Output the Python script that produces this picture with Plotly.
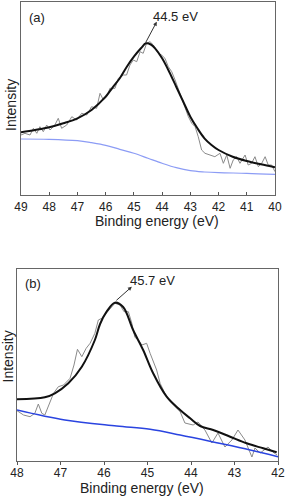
import plotly.graph_objects as go

FONT = "Arial, Liberation Sans, sans-serif"

# ---------- Panel (a) ----------
a_raw_energy = [49.00, 48.86, 48.68, 48.56, 48.44, 48.33, 48.21, 48.09, 47.97, 47.80,
                47.68, 47.56, 47.38, 47.20, 47.03, 46.85, 46.67, 46.50, 46.32, 46.20,
                46.08, 45.96, 45.85, 45.67, 45.55, 45.37, 45.26, 45.14, 45.02, 44.90,
                44.78, 44.67, 44.55, 44.43, 44.31, 44.13, 44.02, 43.90, 43.78, 43.66,
                43.54, 43.43, 43.31, 43.19, 43.07, 42.95, 42.83, 42.72, 42.60, 42.48,
                42.30, 42.13, 41.95, 41.83, 41.71, 41.59, 41.48, 41.36, 41.24, 41.06,
                40.95, 40.83, 40.71, 40.59, 40.47, 40.35, 40.24, 40.12, 40.00]
a_raw_intensity = [60.0, 61.7, 60.0, 66.7, 61.7, 68.3, 63.3, 70.0, 65.0, 70.0,
                   76.7, 66.7, 70.0, 78.3, 75.0, 81.7, 80.0, 88.3, 86.7, 101.7,
                   95.0, 98.3, 106.7, 106.7, 116.7, 120.0, 120.0, 130.0, 135.0, 133.3,
                   143.3, 141.7, 151.7, 153.3, 150.0, 141.7, 140.0, 136.7, 128.3, 123.3,
                   115.0, 106.7, 96.7, 88.3, 78.3, 71.7, 68.3, 58.3, 45.0, 41.7,
                   40.0, 38.3, 41.7, 31.7, 40.0, 26.7, 35.0, 38.3, 31.7, 40.0,
                   30.0, 31.7, 38.3, 28.3, 31.7, 38.3, 30.0, 30.0, 23.3]

a_fit_energy = [49.0, 48.5, 48.0, 47.5, 47.0, 46.5, 46.0, 45.75, 45.5, 45.25, 45.0,
                44.75, 44.57, 44.4, 44.25, 44.0, 43.75, 43.5, 43.25, 43.0, 42.75,
                42.5, 42.25, 42.0, 41.5, 41.0, 40.5, 40.0]
a_fit_intensity = [62.7, 65.0, 67.7, 71.7, 76.7, 85.0, 98.3, 107.7, 116.7, 128.3, 138.3,
                   146.7, 151.7, 150.5, 146.7, 136.7, 123.3, 108.3, 93.3, 78.3, 66.7,
                   56.7, 50.0, 45.0, 38.3, 34.0, 30.7, 27.7]

a_bg_energy = [49.0, 48.0, 47.0, 46.5, 46.0, 45.5, 45.0, 44.5, 44.0, 43.5, 43.0,
               42.5, 42.0, 41.0, 40.0]
a_bg_intensity = [56.0, 55.7, 54.3, 52.3, 49.7, 45.7, 41.7, 36.7, 31.7, 27.3, 24.3,
                  23.0, 22.3, 21.7, 20.7]

a_ticks = [49, 48, 47, 46, 45, 44, 43, 42, 41, 40]

# ---------- Panel (b) ----------
b_raw_energy = [48.00, 47.85, 47.70, 47.59, 47.51, 47.43, 47.36, 47.28, 47.16, 47.05,
                46.93, 46.78, 46.69, 46.61, 46.51, 46.41, 46.32, 46.21, 46.13, 46.05,
                45.95, 45.86, 45.75, 45.63, 45.54, 45.44, 45.36, 45.29, 45.21, 45.13,
                45.02, 44.94, 44.87, 44.79, 44.71, 44.60, 44.48, 44.37, 44.25, 44.14,
                43.95, 43.84, 43.68, 43.52, 43.38, 43.22, 43.06, 42.92, 42.76, 42.60,
                42.53, 42.41, 42.23, 42.12, 42.02]
b_raw_intensity = [50.3, 46.0, 44.3, 47.7, 57.0, 47.7, 46.0, 54.3, 67.7, 74.3,
                   76.0, 82.7, 96.0, 111.7, 104.3, 112.7, 117.7, 127.7, 141.0, 142.7,
                   147.7, 152.7, 157.7, 156.0, 149.3, 149.3, 137.7, 123.7, 121.0, 116.0,
                   117.7, 107.7, 99.3, 91.0, 77.7, 67.7, 59.3, 54.3, 49.3, 38.0,
                   36.0, 39.0, 31.0, 18.0, 28.0, 14.0, 21.0, 31.0, 21.0, 4.0,
                   13.0, 8.0, 14.0, 9.0, 6.0]

b_fit_energy = [48.00, 47.36, 47.13, 46.82, 46.51, 46.21, 46.09, 45.94, 45.75, 45.56,
                45.33, 45.10, 44.87, 44.56, 44.25, 44.02, 43.79, 43.49, 43.10, 42.72,
                42.34, 42.03]
b_fit_intensity = [61.7, 63.7, 67.7, 77.7, 94.3, 121.0, 137.0, 149.3, 158.3, 154.0,
                   131.0, 111.0, 87.7, 64.3, 51.0, 42.7, 35.0, 31.0, 24.3, 17.7,
                   12.7, 8.7]

b_bg_energy = [48.0, 46.90, 45.71, 44.94, 44.25, 43.41, 42.64, 42.0]
b_bg_intensity = [51.0, 41.0, 35.0, 31.7, 26.0, 18.3, 11.0, 4.3]

b_ticks = [48, 47, 46, 45, 44, 43, 42]

fig = go.Figure()

# panel a traces
fig.add_trace(go.Scatter(x=a_raw_energy, y=a_raw_intensity, mode="lines",
                         line=dict(color="#8a8a8a", width=1), xaxis="x", yaxis="y"))
fig.add_trace(go.Scatter(x=a_bg_energy, y=a_bg_intensity, mode="lines",
                         line=dict(color="#8c9cf5", width=1.2, shape="spline"), xaxis="x", yaxis="y"))
fig.add_trace(go.Scatter(x=a_fit_energy, y=a_fit_intensity, mode="lines",
                         line=dict(color="#111111", width=2, shape="spline"), xaxis="x", yaxis="y"))

# panel b traces
fig.add_trace(go.Scatter(x=b_raw_energy, y=b_raw_intensity, mode="lines",
                         line=dict(color="#8a8a8a", width=1), xaxis="x2", yaxis="y2"))
fig.add_trace(go.Scatter(x=b_bg_energy, y=b_bg_intensity, mode="lines",
                         line=dict(color="#2a44e0", width=1.5, shape="spline"), xaxis="x2", yaxis="y2"))
fig.add_trace(go.Scatter(x=b_fit_energy, y=b_fit_intensity, mode="lines",
                         line=dict(color="#111111", width=2, shape="spline"), xaxis="x2", yaxis="y2"))

axis_common = dict(showline=True, mirror=True, linecolor="#666666", linewidth=1,
                   showgrid=False, zeroline=False, automargin=False)

fig.update_layout(
    width=285, height=496,
    margin=dict(l=0, r=0, t=0, b=0),
    paper_bgcolor="white", plot_bgcolor="white",
    showlegend=False,
    font=dict(family=FONT, color="#222222"),
    xaxis=dict(domain=[21/285, 275/285], range=[49, 40], anchor="y",
               tickmode="array", tickvals=a_ticks, ticks="inside", ticklen=3,
               tickcolor="#555555", ticklabelstandoff=1,
               tickfont=dict(size=12, family=FONT, color="#222222"),
               **axis_common),
    yaxis=dict(domain=[1 - 195/496, 1 - 2/496], range=[0, 193], anchor="x",
               showticklabels=False, ticks="", **axis_common),
    xaxis2=dict(domain=[17/285, 278/285], range=[48, 42], anchor="y2",
                tickmode="array", tickvals=b_ticks, ticks="outside", ticklen=3,
                tickcolor="#555555", ticklabelstandoff=-2,
                tickfont=dict(size=12, family=FONT, color="#222222"),
                **axis_common),
    yaxis2=dict(domain=[1 - 461/496, 1 - 269/496], range=[0, 192], anchor="x2",
                showticklabels=False, ticks="", **axis_common),
)

def txt(text, x, y, xref="paper", yref="paper", size=13, angle=0):
    return dict(text=text, xref=xref, yref=yref, x=x, y=y, showarrow=False,
                xanchor="center", yanchor="middle", textangle=angle,
                font=dict(size=size, family=FONT, color="#222222"))

ann = [
    txt("(a)", 37/285, 1 - 17/496),
    txt("(b)", 33/285, 1 - 283/496),
    txt("Binding energy (eV)", 157/285, 1 - 221/496, size=14),
    txt("Binding energy (eV)", 142/285, 1 - 488/496, size=14),
    txt("Intensity", 11/285, 1 - 105/496, size=14, angle=-90),
    txt("Intensity", 7.5/285, 1 - 357/496, size=14, angle=-90),
    txt("44.5 eV", 43.52, 178.3, xref="x", yref="y"),
    txt("45.7 eV", 44.885, 181, xref="x2", yref="y2"),
    dict(text="", xref="x", yref="y", x=44.19, y=173.3, axref="x", ayref="y",
         ax=44.61, ay=151, showarrow=True, arrowhead=2, arrowsize=0.8,
         arrowwidth=1, arrowcolor="#333333"),
    dict(text="", xref="x2", yref="y2", x=45.36, y=174.3, axref="x2", ayref="y2",
         ax=45.75, ay=159.3, showarrow=True, arrowhead=2, arrowsize=0.8,
         arrowwidth=1, arrowcolor="#333333"),
]
fig.update_layout(annotations=ann)

fig.write_html("out.html", config={"displayModeBar": False},
               post_script="document.body.style.margin='0';document.body.style.padding='0';")
